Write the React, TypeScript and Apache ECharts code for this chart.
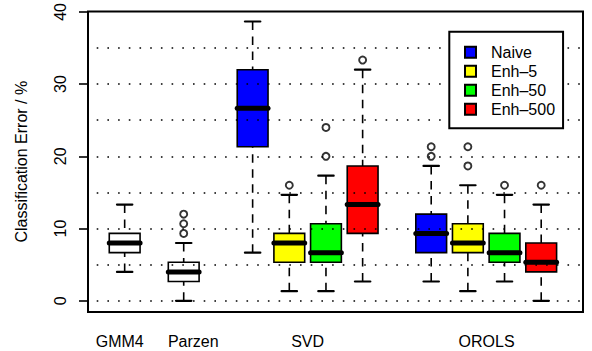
import React, { useEffect, useRef } from "react";
import * as echarts from "echarts";

// ---- data ----
const categories = ["GMM4", "Parzen", "SVD", "OROLS"];
const categoryLabelPositions = [0.864, 2.87, 5.99, 10.87];
const methodNames = ["Naive", "Enh–5", "Enh–50", "Enh–500"];
const methodColors = ["#0000FF", "#FFFF00", "#00FF00", "#FF0000"];

const gmm4Position = 1;
const parzenPosition = 2.61;
const svdPositions = [4.49, 5.49, 6.49, 7.49];
const orolsPositions = [9.36, 10.36, 11.36, 12.36];

// [lower whisker, Q1, median, Q3, upper whisker]
const gmm4Stats = [4.0, 6.67, 8.0, 9.33, 13.33];
const parzenStats = [0, 2.67, 4.0, 5.33, 8.0];
const parzenOutliers = [9.33, 10.67, 12.0];

const svdNaive = [6.67, 21.33, 26.67, 32.0, 38.67];
const svdEnh5 = [1.33, 5.33, 8.0, 9.33, 14.67];
const svdEnh50 = [1.33, 5.33, 6.67, 10.67, 17.33];
const svdEnh500 = [2.67, 9.33, 13.33, 18.67, 32.0];
const svdNaiveOutliers: number[] = [];
const svdEnh5Outliers = [16.0];
const svdEnh50Outliers = [20.0, 24.0];
const svdEnh500Outliers = [33.33];

const orolsNaive = [2.67, 6.67, 9.33, 12.0, 18.67];
const orolsEnh5 = [1.33, 6.67, 8.0, 10.67, 16.0];
const orolsEnh50 = [2.67, 5.33, 6.67, 9.33, 14.67];
const orolsEnh500 = [0, 4.0, 5.33, 8.0, 13.33];
const orolsNaiveOutliers = [20.0, 21.33];
const orolsEnh5Outliers = [18.67, 21.33];
const orolsEnh50Outliers = [16.0];
const orolsEnh500Outliers = [16.0];

const yTickValues = [0, 10, 20, 30, 40];
const gridLineValues = [0, 5, 10, 15, 20, 25, 30, 35];

// ---- styling constants ----
const FONT = "'Liberation Sans', Arial, Helvetica, sans-serif";
const BOX_HALF_WIDTH = 0.42;

const svdStats = [svdNaive, svdEnh5, svdEnh50, svdEnh500];
const orolsStats = [orolsNaive, orolsEnh5, orolsEnh50, orolsEnh500];
const svdOutliers = [svdNaiveOutliers, svdEnh5Outliers, svdEnh50Outliers, svdEnh500Outliers];
const orolsOutliers = [orolsNaiveOutliers, orolsEnh5Outliers, orolsEnh50Outliers, orolsEnh500Outliers];

function renderBox(params: any, api: any) {
  const x = api.value(0);
  const vals = [1, 2, 3, 4, 5].map((i) => api.value(i));
  const p = vals.map((v) => api.coord([x, v]));
  const cx = p[0][0];
  const hw = api.size([BOX_HALF_WIDTH, 0])[0];
  const [yMin, yQ1, yMed, yQ3, yMax] = p.map((q: number[]) => q[1]);
  const fill = api.visual("color");
  const dash = [8.5, 6.5];
  return {
    type: "group",
    children: [
      {
        type: "line",
        shape: { x1: cx, y1: yMin, x2: cx, y2: yQ1 },
        style: { stroke: "#000", lineWidth: 1.6, lineDash: dash },
      },
      {
        type: "line",
        shape: { x1: cx, y1: yMax, x2: cx, y2: yQ3 },
        style: { stroke: "#000", lineWidth: 1.6, lineDash: dash },
      },
      {
        type: "line",
        shape: { x1: cx - hw / 2, y1: yMin, x2: cx + hw / 2, y2: yMin },
        style: { stroke: "#000", lineWidth: 2.2, lineCap: "round" },
      },
      {
        type: "line",
        shape: { x1: cx - hw / 2, y1: yMax, x2: cx + hw / 2, y2: yMax },
        style: { stroke: "#000", lineWidth: 2.2, lineCap: "round" },
      },
      {
        type: "rect",
        shape: { x: cx - hw, y: yQ3, width: 2 * hw, height: yQ1 - yQ3 },
        style: { fill, stroke: "#000", lineWidth: 1.6 },
      },
      {
        type: "line",
        shape: { x1: cx - hw, y1: yMed, x2: cx + hw, y2: yMed },
        style: { stroke: "#000", lineWidth: 5, lineCap: "round" },
      },
    ],
  };
}

export default function App() {
  const ref = useRef<HTMLDivElement>(null);

  useEffect(() => {
    if (!ref.current) return;
    const chart = echarts.init(ref.current, undefined, { renderer: "svg" });

    const boxSeries: any[] = [];
    boxSeries.push({
      name: "single",
      type: "custom",
      renderItem: renderBox,
      itemStyle: { color: "#FFFFFF" },
      encode: { x: 0, y: [1, 2, 3, 4, 5] },
      data: [
        [gmm4Position, ...gmm4Stats],
        [parzenPosition, ...parzenStats],
      ],
      z: 2,
    });
    methodNames.forEach((name, i) => {
      boxSeries.push({
        name,
        type: "custom",
        renderItem: renderBox,
        itemStyle: { color: methodColors[i], borderColor: "#000", borderWidth: 1.5 },
        encode: { x: 0, y: [1, 2, 3, 4, 5] },
        data: [
          [svdPositions[i], ...svdStats[i]],
          [orolsPositions[i], ...orolsStats[i]],
        ],
        z: 2,
      });
    });

    const outlierData: number[][] = [];
    parzenOutliers.forEach((v) => outlierData.push([parzenPosition, v]));
    svdOutliers.forEach((arr, i) => arr.forEach((v) => outlierData.push([svdPositions[i], v])));
    orolsOutliers.forEach((arr, i) => arr.forEach((v) => outlierData.push([orolsPositions[i], v])));

    chart.setOption({
      animation: false,
      grid: {
        left: 88,
        right: 9,
        top: 9.5,
        bottom: 39,
        show: true,
        borderColor: "#000",
        borderWidth: 2,
        backgroundColor: "transparent",
      },
      legend: {
        data: methodNames,
        orient: "vertical",
        left: 449.3,
        top: 31.7,
        icon: "rect",
        itemWidth: 11,
        itemHeight: 11,
        itemGap: 3,
        padding: [12.5, 8, 11, 14.7],
        backgroundColor: "#FFFFFF",
        borderColor: "#000",
        borderWidth: 2,
        borderRadius: 0,
        selectedMode: false,
        textStyle: { fontSize: 16, color: "#000", fontFamily: FONT, padding: [0, 0, 0, 10] },
        z: 10,
      },
      xAxis: {
        type: "value",
        min: 0,
        max: 13.5,
        axisLine: { show: false },
        axisTick: { show: false },
        splitLine: { show: false },
        axisLabel: {
          customValues: categoryLabelPositions,
          formatter: (v: number) => {
            const idx = categoryLabelPositions.findIndex((p) => Math.abs(p - v) < 1e-6);
            return idx >= 0 ? categories[idx] : "";
          },
          fontSize: 16,
          color: "#000",
          fontFamily: FONT,
          margin: 21,
        },
      },
      yAxis: {
        type: "value",
        min: -1.55,
        max: 40.07,
        name: "Classification Error / %",
        nameLocation: "middle",
        nameGap: 59,
        nameTextStyle: { fontSize: 16, color: "#000", fontFamily: FONT },
        axisLine: { show: false },
        splitLine: { show: false },
        axisTick: {
          show: true,
          customValues: yTickValues,
          length: 9,
          lineStyle: { color: "#000", width: 1.6 },
        },
        axisLabel: {
          customValues: yTickValues,
          rotate: 90,
          fontSize: 16,
          color: "#000",
          fontFamily: FONT,
          margin: 20,
        },
      },
      series: [
        ...boxSeries,
        {
          name: "grid",
          type: "line",
          data: [],
          z: 3,
          silent: true,
          markLine: {
            silent: true,
            symbol: ["none", "none"],
            label: { show: false },
            lineStyle: { color: "#000", type: [1.6, 9.1], width: 1.6, dashOffset: 1.95 },
            data: gridLineValues.map((v) => ({ yAxis: v })),
          },
        },
        {
          name: "outliers",
          type: "scatter",
          data: outlierData,
          symbol: "circle",
          symbolSize: 7,
          itemStyle: { color: "rgba(0,0,0,0)", borderColor: "#000", borderWidth: 1.9 },
          z: 4,
        },
      ],
    });

    return () => chart.dispose();
  }, []);

  return (
    <div
      ref={ref}
      style={{ position: "fixed", left: 0, top: 0, width: 592, height: 351, background: "#fff" }}
    />
  );
}
